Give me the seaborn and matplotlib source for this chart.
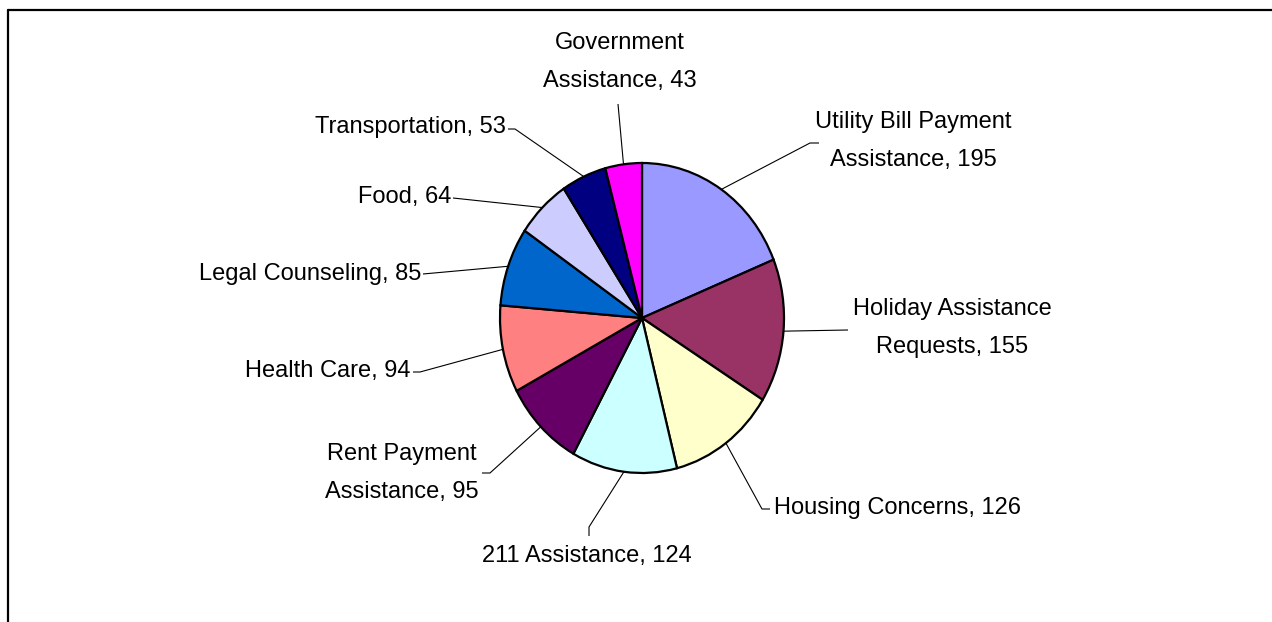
import numpy as np
import matplotlib
matplotlib.use("Agg")
import matplotlib.pyplot as plt
from matplotlib.lines import Line2D
import seaborn as sns

# data
categories = [
    "Utility Bill Payment\nAssistance",
    "Holiday Assistance\nRequests",
    "Housing Concerns",
    "211 Assistance",
    "Rent Payment\nAssistance",
    "Health Care",
    "Legal Counseling",
    "Food",
    "Transportation",
    "Government\nAssistance",
]
counts = [195, 155, 126, 124, 95, 94, 85, 64, 53, 43]
colors = ["#9999FF", "#993366", "#FFFFCC", "#CCFFFF", "#660066",
          "#FF8080", "#0066CC", "#CCCCFF", "#000080", "#FF00FF"]

# label layout in pixels: (x, y, ha) and leader points after the wedge edge
label_pos = [
    (913, 141, "center"),
    (952, 328, "center"),
    (774, 508, "left"),
    (587, 556, "center"),
    (402, 473, "center"),
    (411, 371, "right"),
    (421, 274, "right"),
    (451, 197, "right"),
    (506, 127, "right"),
    (620, 62, "center"),
]
leader_pts = [
    [(810, 143), (819, 143)],
    [(848, 330)],
    [(762, 509), (770, 509)],
    [(589, 527), (589, 536)],
    [(490, 473), (482, 473)],
    [(420, 372), (413, 372)],
    [(423, 274)],
    [(453, 198)],
    [(515, 129), (508, 129)],
    [(618, 104)],
]

W, H = 1272, 622
CX, CY, RX, RY = 642, 318, 142, 155


def px(x, y):
    return (x - CX) / RX, (CY - y) / RY


sns.set_theme(style="white")
plt.rcParams["font.family"] = ["Liberation Sans", "DejaVu Sans"]

fig = plt.figure(figsize=(W / 100, H / 100), dpi=100)
ax = fig.add_axes([0, 0, 1, 1])

ax.pie(counts, colors=colors, startangle=90, counterclock=False,
       wedgeprops=dict(edgecolor="black", linewidth=1.6))
ax.set_aspect("auto")
ax.set_xlim(px(0, 0)[0], px(W, 0)[0])
ax.set_ylim(px(0, H)[1], px(0, 0)[1])
ax.axis("off")

total = sum(counts)
cum = np.cumsum(counts) - np.array(counts) / 2
for i, (name, val) in enumerate(zip(categories, counts)):
    theta = np.deg2rad(90 - 360 * cum[i] / total)
    xs = [np.cos(theta)]
    ys = [np.sin(theta)]
    for p in leader_pts[i]:
        dx, dy = px(*p)
        xs.append(dx)
        ys.append(dy)
    ax.plot(xs, ys, color="black", lw=0.8, solid_capstyle="butt")
    lx, ly = px(label_pos[i][0], label_pos[i][1])
    ax.text(lx, ly, f"{name}, {val}", ha=label_pos[i][2], va="center",
            multialignment="center", fontsize=17, linespacing=1.9,
            color="black")

# chart area border (left and top edges visible)
fig.add_artist(Line2D([7.5 / W, 7.5 / W], [0, 1 - 9.5 / H], color="black",
                      lw=1.6, transform=fig.transFigure))
fig.add_artist(Line2D([7.5 / W, 1], [1 - 9.5 / H, 1 - 9.5 / H], color="black",
                      lw=1.6, transform=fig.transFigure))

fig.savefig("out.png", dpi=100, facecolor="white")
